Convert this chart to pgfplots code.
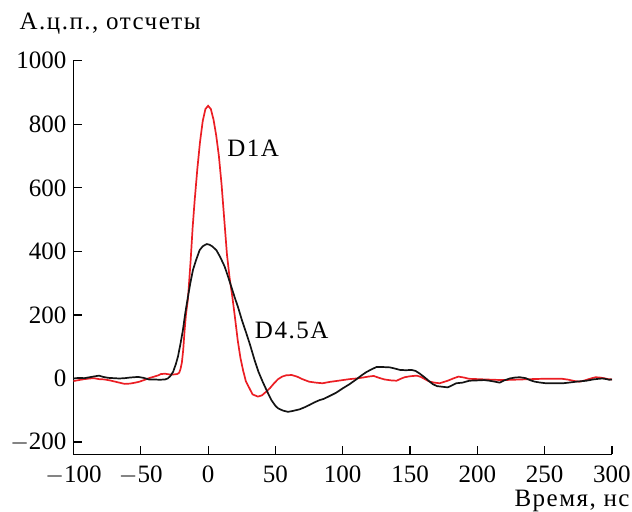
\documentclass[border=0pt]{standalone}
\usepackage{fontspec}
\setmainfont{Liberation Serif}
\newfontfamily\lblfont[LetterSpace=6]{Liberation Serif}
\usepackage{pgfplots}
\pgfplotsset{compat=1.18}
\definecolor{cred}{RGB}{235,30,36}
\definecolor{cblack}{RGB}{20,20,20}
\newcommand{\mn}{$-$}
\begin{document}
\begin{tikzpicture}
\begin{axis}[
  name=ax,
  scale only axis,
  width=269.25pt, height=196.8pt,
  xmin=-100, xmax=300, ymin=-238.5, ymax=1000,
  axis lines=left,
  axis line style={-, line width=0.6pt},
  tick align=inside,
  major tick length=4.2pt,
  tick style={line width=0.6pt, black},
  xtick={-100,-50,0,50,100,150,200,250,300},
  xticklabels={\mn100,\mn50,0,50,100,150,200,250,300},
  ytick={-200,0,200,400,600,800,1000},
  yticklabels={\mn200,0,200,400,600,800,1000},
  tick label style={font=\fontsize{12.5}{14}\selectfont},
  xticklabel style={yshift=-2.5pt},
  clip=false,
]
\addplot[cred, line width=0.85pt] coordinates {
(-100,-8) (-96,-5) (-92,-2) (-88,0) (-85,1) (-81,-2) (-77,-3) (-73,-6) (-69,-10) (-65,-14)
(-62,-17) (-58,-16) (-54,-13) (-51,-10) (-47,-4) (-44,1) (-40,6) (-37,10) (-35,14) (-32,15)
(-29,13) (-27,12) (-25,13) (-23,14) (-21.5,18) (-20.5,30) (-19.5,50) (-18.5,90) (-17.5,150)
(-16.5,200) (-15,250) (-13,370) (-11.5,475) (-10,560) (-8,660) (-6,745) (-4,810) (-2,848)
(0,858) (2,848) (4,815) (6,765) (8,700) (10,610) (12,500) (14,390) (16,315) (18,257) (20,190)
(22,120) (24,65) (26,25) (28,-8) (30,-25) (33,-50) (37,-57) (40,-53) (43,-42) (46,-30) (49,-15)
(52,-2) (55,6) (58,10) (62,11) (66,6) (70,-2) (75,-10) (80,-13) (85,-15) (90,-11) (95,-8)
(100,-5) (105,-2) (110,0) (115,3) (119,6) (123,8) (127,2) (131,-3) (136,-6) (140,-7) (143,-1)
(146,4) (150,7) (155,9) (158,5) (161,-2) (164,-9) (168,-13) (172,-15) (175,-11) (178,-7)
(182,0) (186,6) (190,3) (194,-1) (200,-2) (206,-3) (212,-4) (219,-5) (226,-4) (233,-3)
(240,-2) (248,-1) (256,-1) (263,-1) (268,-4) (272,-8) (276,-10) (279,-7) (282,-3) (285,1)
(288,4) (291,3) (294,1) (297,-2) (300,-3)
};
\addplot[cblack, line width=0.85pt] coordinates {
(-100,0) (-96,2) (-92,1) (-88,4) (-84,7) (-81,9) (-78,5) (-74,2) (-70,1) (-66,0) (-62,1)
(-58,3) (-55,4) (-52,5) (-48,2) (-44,-3) (-40,-3) (-36,-4) (-32,-3) (-30,0) (-28,8) (-26,21)
(-24,45) (-22.4,69) (-20.5,110) (-18.7,153) (-17,205) (-15,257) (-13,305) (-11.3,341)
(-9,372) (-6.3,404) (-4,416) (-2,421) (-0.9,423) (1,421) (3,416) (6.1,404) (9,382)
(12.3,352) (15,318) (17.2,289) (20,252) (22.1,226) (25,185) (28.4,142) (31,108) (34.5,58)
(37.5,20) (40.7,-12) (44,-42) (47,-68) (50,-86) (52,-94) (55.6,-101) (59.3,-105) (63,-102)
(68,-97) (72,-90) (75.4,-83) (79,-75) (82.8,-68) (86,-64) (90.3,-55) (95,-45) (100,-31)
(105,-18) (110,-3) (114,10) (117.5,20) (121,28) (125,36) (130,36) (135,35) (139,31)
(142.5,27) (147,26) (151,27) (154,24) (157,16) (161,3) (164.6,-10) (167,-18) (170,-24)
(174,-26) (178,-28) (181,-22) (184.3,-15) (189,-13) (194,-7) (200,-6) (205,-5) (209,-7)
(213,-10) (216.6,-13) (220,-6) (224,0) (228,3) (231.4,4) (236,1) (239,-5) (242.6,-10)
(247,-13) (251,-15) (257,-15) (263.6,-15) (268,-13) (273.5,-10) (281,-7) (286,-3) (290,-1)
(293,0) (296,-2) (298,-4) (300,-3)
};
\node[anchor=base west, font=\lblfont\fontsize{12.5}{14}\selectfont, inner sep=0pt] at (axis cs:14,700) {D1A};
\node[anchor=base west, font=\lblfont\fontsize{12.5}{14}\selectfont, inner sep=0pt] at (axis cs:34.5,126) {D4.5A};
\end{axis}
\node[anchor=base west, font=\lblfont\fontsize{12.5}{14}\selectfont, inner sep=0pt, xshift=-27.1pt, yshift=15.7pt] at (ax.north west) {А.ц.п., отсчеты};
\node[anchor=base east, font=\lblfont\fontsize{12.5}{14}\selectfont, inner sep=0pt, xshift=9pt, yshift=-26.2pt] at (ax.south east) {Время, нс};
\pgfresetboundingbox
\path (ax.south west) ++(-36.75pt,-28.85pt) rectangle ++(316pt,256pt);
\end{tikzpicture}
\end{document}
